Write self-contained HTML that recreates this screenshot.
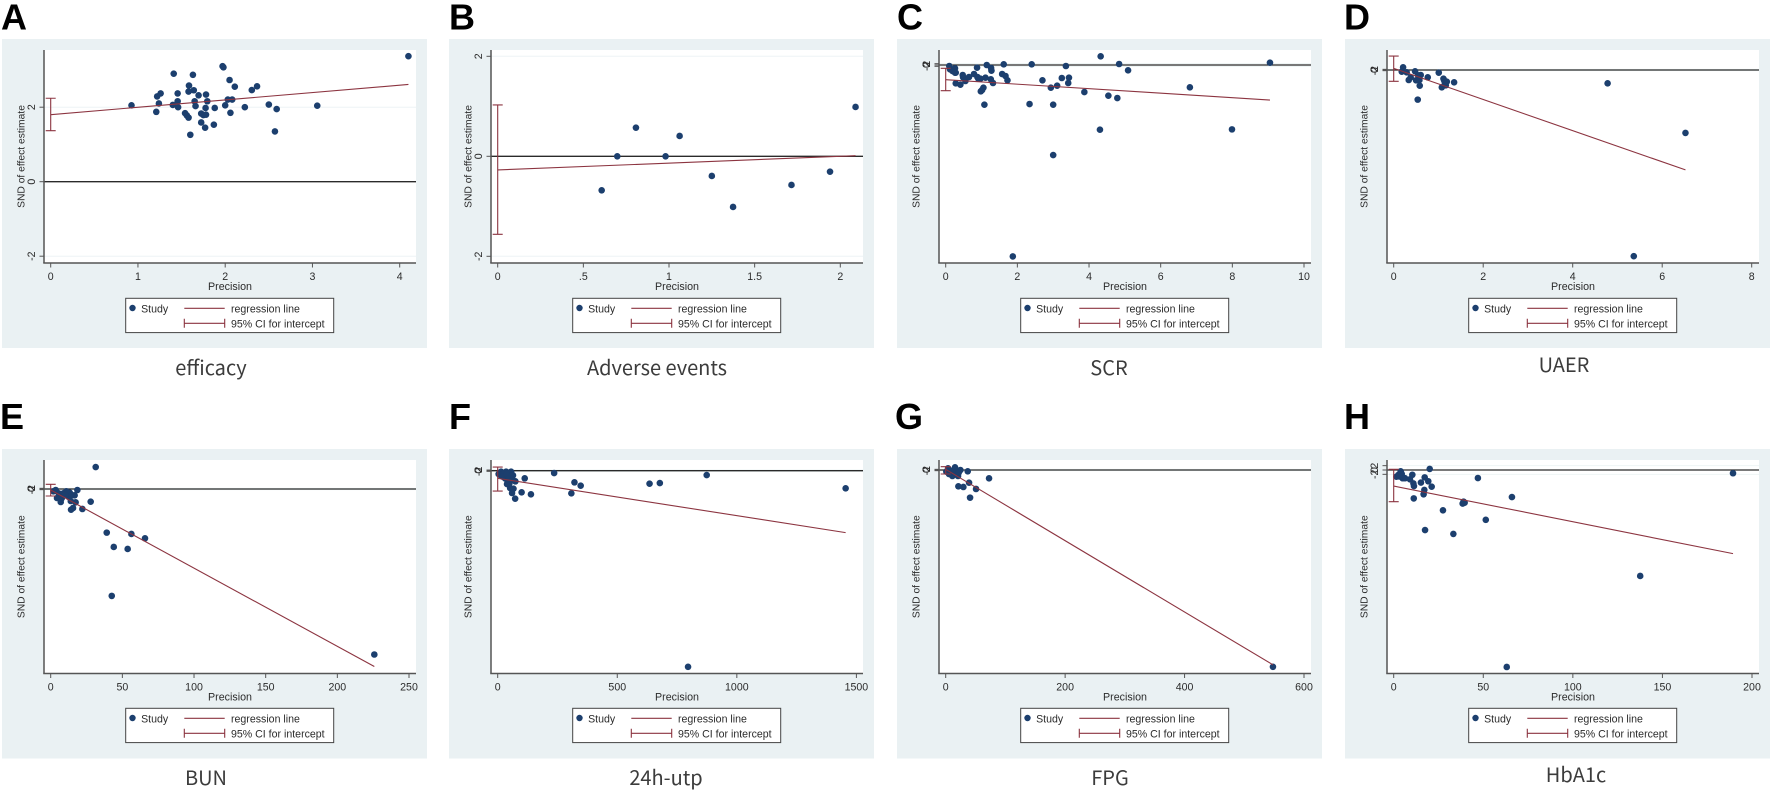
<!DOCTYPE html>
<html lang="en">
<head>
<meta charset="utf-8">
<title>Egger regression plots</title>
<style>
html,body{margin:0;padding:0;background:#fff;}
svg{display:block;filter:blur(0.35px);}
.letter{font-family:"Liberation Sans",sans-serif;font-weight:700;font-size:36px;fill:#000;}
.caption{font-family:"Noto Sans CJK SC","Liberation Sans",sans-serif;font-size:20px;fill:#3c3c3c;text-anchor:middle;}
</style>
</head>
<body>
<svg id="figure" width="1772" height="791" viewBox="0 0 1772 791" xmlns="http://www.w3.org/2000/svg">
<g id="panels"></g>
<text class="letter" x="1" y="29.5">A</text>
<text class="letter" x="449" y="29.5">B</text>
<text class="letter" x="897" y="29.5">C</text>
<text class="letter" x="1344" y="29.5">D</text>
<text class="letter" x="0" y="429">E</text>
<text class="letter" x="449" y="429">F</text>
<text class="letter" x="895" y="429">G</text>
<text class="letter" x="1344" y="429">H</text>
<text class="caption" x="211" y="375">efficacy</text>
<text class="caption" x="657" y="375">Adverse events</text>
<text class="caption" x="1109" y="375">SCR</text>
<text class="caption" x="1564" y="372">UAER</text>
<text class="caption" x="206" y="785">BUN</text>
<text class="caption" x="666" y="785">24h-utp</text>
<text class="caption" x="1110" y="785">FPG</text>
<text class="caption" x="1576" y="782">HbA1c</text>
</svg>
<script>
// Panel A: efficacy
const aPrecision = [0.926,1.21,1.22,1.26,1.24,1.41,1.40,1.455,1.455,1.46,1.585,1.63,1.64,1.58,1.695,1.78,1.795,1.65,1.66,1.775,1.88,1.54,1.56,1.58,1.725,1.75,1.78,1.725,1.77,1.87,1.60,1.97,1.98,2.05,2.11,2.03,2.08,2.0,2.06,2.225,2.305,2.365,2.50,2.59,2.57,3.055,4.10];
const aSnd = [2.05,1.875,2.29,2.37,2.10,2.90,2.06,2.37,2.16,2.0,2.58,2.87,2.455,2.42,2.32,2.34,2.16,2.16,2.03,1.98,1.98,1.84,1.78,1.72,1.83,1.79,1.80,1.59,1.45,1.53,1.26,3.10,3.07,2.73,2.55,2.205,2.205,2.05,1.85,2.0,2.46,2.56,2.07,1.95,1.35,2.04,3.37];
const aXTicks = [0,1,2,3,4];
const aYTicks = [-2,0,2];
const aRegression = [1.80,2.61];
const aInterceptCI = [1.37,2.24];

// Panel B: adverse events
const bPrecision = [0.607,0.698,0.807,0.98,1.062,1.25,1.374,1.715,1.94,2.089];
const bSnd = [-0.68,0,0.573,0,0.407,-0.393,-1.013,-0.573,-0.307,0.987];
const bXTicks = [0,0.5,1,1.5,2];
const bYTicks = [-2,0,2];
const bRegression = [-0.273,0.013];
const bInterceptCI = [-1.56,1.027];

// Panel C: SCR
const cPrecision = [0.10,0.12,0.19,0.26,0.26,0.28,0.28,0.41,0.475,0.485,0.55,0.65,0.79,0.875,0.885,0.91,0.97,0.98,1.016,1.053,1.08,1.11,1.146,1.26,1.267,1.277,1.32,1.575,1.62,1.67,1.724,2.34,2.40,2.70,2.935,3.0,3.0,3.11,3.24,3.355,3.44,3.42,3.87,4.305,4.325,4.54,4.79,4.84,5.09,1.873,6.815,7.99,9.05];
const cSnd = [-1.5,-6.5,-9,-5,-11.5,-11.5,-27.5,-29.5,-15,-18.5,-24,-18,-13.5,-4,-18,-20.5,-20.5,-39.5,-37.5,-34,-59.5,-19,0,-21.5,-4.5,-8.5,-27,-13.5,1,-16.5,-23,-58.5,1,-23,-34,-59.5,-135,-31,-19.5,-1.5,-19,-27,-40.5,-97,13,-46,-49.5,1.5,-8,-287,-33.5,-96.5,3.5];
const cXTicks = [0,2,4,6,8,10];
const cYTicks = [-2,0,2];
const cRegression = [-22,-52.5];
const cInterceptCI = [-38.5,-5];

// Panel D: UAER
const dPrecision = [0.21,0.18,0.29,0.336,0.38,0.478,0.5,0.545,0.575,0.604,0.537,0.582,0.761,1.007,1.075,1.112,1.127,1.142,1.164,1.187,1.35,4.78,6.52,5.365];
const dSnd = [8,-5,-7,-30,-22,-4,-31,-16,-30,-15,-89,-47,-22,-8,-52,-26,-31,-38,-46,-35,-37,-40,-189,-559];
const dXTicks = [0,2,4,6,8];
const dYTicks = [-2,0,2];
const dRegression = [5,-300];
const dInterceptCI = [-34,42];

// Panel E: BUN
const ePrecision = [31.4,18.6,27.9,22.1,17.4,15.6,14.2,16.7,13.3,10.9,14,7,4.4,3.5,1.9,5.6,7.7,8.8,12.3,14.7,10,6,39.1,56.3,65.8,44,53.7,42.6,225.8];
const eSnd = [66,-3,-38,-60,-40,-57,-62,-19,-11,-7,-36,-39,-27,-3,-7,-13,-28,-13,-23,-18,-18,-28,-131,-135,-148,-174,-180,-321,-497];
const eXTicks = [0,50,100,150,200,250];
const eYTicks = [-2,0,2];
const eRegression = [-3,-533];
const eInterceptCI = [-21,14];

// Panel F: 24h-utp
const fPrecision = [4,14,21,28,35,49,56,64,74,42,39,52,66,60,73,100,113,139,236,308,321,347,635,678,874,796,1455,11,25,31,21,42,53,39,59,49,45,63];
const fSnd = [-10,-3,-8,-16,-3,-6,-3,-14,-32,-33,-40,-52,-54,-67,-84,-65,-23,-71,-7,-68,-35,-45,-39,-37,-13,-589,-53,-13,-10,-23,-18,-16,-23,-10,-16,-38,-26,-28];
const fXTicks = [0,500,1000,1500];
const fYTicks = [-2,0,2];
const fRegression = [-23,-186];
const fInterceptCI = [-61,11];

// Panel G: FPG
const gPrecision = [3.9,1.1,5.6,11.2,15.6,20.7,24.6,17.9,12.3,8.4,21.8,36.9,39.1,72.6,21.2,29.6,50.8,40.8,548];
const gSnd = [5,-5,-12,-18,8,-18,0,-5,-8,-2,-8,-4,-38,-25,-49,-51,-57,-83,-591];
const gXTicks = [0,200,400,600];
const gYTicks = [-2,0,2];
const gRegression = [2,-585];
const gInterceptCI = [-12,10];

// Panel H: HbA1c
const hPrecision = [1.5,2.6,3.9,4.5,5,6.3,9.1,10.4,11,11.3,11.2,15.2,17.3,19.3,21.2,17.1,16.7,20.1,27.5,17.5,33.3,38.5,39,39.6,47,4.1,3.2,66,51.4,63.1,137.6,189.4];
const hSnd = [-3.1,-2.3,-0.6,-1.8,-3.8,-3.8,-4.3,-2.2,-6.2,-7.4,-13.1,-5.8,-3.4,-5.2,-7.7,-9.2,-11.2,0.5,-18.6,-27.7,-29.5,-15.5,-14.6,-15.1,-3.7,-1.8,-3,-12.5,-23,-90.9,-48.9,-1.5];
const hXTicks = [0,50,100,150,200];
const hYTicks = [-2,0,2];
const hRegression = [-7.4,-38.6];
const hInterceptCI = [-14.6,0.3];

const NS = 'http://www.w3.org/2000/svg';
const FONT = '"Liberation Sans", sans-serif';
const AXIS = '#555555';
const INK = '#2b2b2b';
const MAROON = '#8c3440';
const NAVY = '#1c3f6e';

function make(parent, tag, attrs, text) {
  const el = document.createElementNS(NS, tag);
  for (const k in attrs) el.setAttribute(k, attrs[k]);
  if (text !== undefined) el.textContent = text;
  parent.appendChild(el);
  return el;
}
function tickText(v) {
  return String(v).replace(/^(-?)0\./, '$1.');
}

function drawLegend(g, left, top) {
  const lg = make(g, 'g', {});
  
  
  const box = make(lg, 'rect', {x: left, y: top, width: 208, height: 34.3, fill: '#fff', stroke: '#444', 'stroke-width': 1});
  
  
  const dot = make(lg, 'circle', {cx: left + 6.8, cy: top + 9.7, r: 3.2, fill: NAVY});
  
  
  const study = make(lg, 'text', {x: left + 15.4, y: top + 14.2, 'font-family': FONT, 'font-size': 10.6, fill: INK}, 'Study');
  
  
  const reg = make(lg, 'line', {x1: left + 58.6, x2: left + 99, y1: top + 10, y2: top + 10, stroke: MAROON, 'stroke-width': 1.1});
  
  
  const regText = make(lg, 'text', {x: left + 105.3, y: top + 14.2, 'font-family': FONT, 'font-size': 10.6, fill: INK}, 'regression line');
  
  
  const ci = make(lg, 'path', {d: 'M' + (left + 58.6) + ' ' + (top + 20.5) + 'v9M' + (left + 58.6) + ' ' + (top + 25) + 'H' + (left + 99) + 'M' + (left + 99) + ' ' + (top + 20.5) + 'v9', fill: 'none', stroke: MAROON, 'stroke-width': 1.1});
  
  
  const ciText = make(lg, 'text', {x: left + 105.3, y: top + 29, 'font-family': FONT, 'font-size': 10.6, fill: INK}, '95% CI for intercept');
  
  
}

function drawPanel(p) {
  const root = document.getElementById('panels');
  const g = make(root, 'g', {});
  
  
  const L = p.left, T = p.top, B = p.bottom, R = L + 372;
  const X = function (v) { return L + 6.7 + v * p.xSpan / p.xLast; };
  const Y = function (v) { return p.zeroY - v * p.unit; };

  const bg = make(g, 'rect', {x: L - 42, y: T - 11, width: 425, height: B - T + 96, fill: '#eaf1f3'});
  
  
  const plot = make(g, 'rect', {x: L, y: T, width: 372, height: B - T, fill: '#fff'});
  
  

  p.yTicks.forEach(function (v) {
    if (v === 0) return;
    const grid = make(g, 'line', {x1: L, x2: R, y1: Y(v), y2: Y(v), stroke: '#eef4f5', 'stroke-width': 1});
    
    
  });
  const zero = make(g, 'line', {x1: L, x2: R, y1: Y(0), y2: Y(0), stroke: '#2a2a2a', 'stroke-width': 1.3});
  
  

  p.x.forEach(function (v, i) {
    const c = make(g, 'circle', {cx: X(v), cy: Y(p.y[i]), r: 3.3, fill: NAVY});
    
    
  });

  const maxX = Math.max.apply(null, p.x);
  const reg = make(g, 'line', {x1: X(0), y1: Y(p.reg[0]), x2: X(maxX), y2: Y(p.reg[1]), stroke: MAROON, 'stroke-width': 1.1});
  
  
  const x0 = X(0);
  const ci = make(g, 'path', {d: 'M' + (x0 - 5) + ' ' + Y(p.ci[0]) + 'H' + (x0 + 5) + 'M' + x0 + ' ' + Y(p.ci[0]) + 'V' + Y(p.ci[1]) + 'M' + (x0 - 5) + ' ' + Y(p.ci[1]) + 'H' + (x0 + 5), fill: 'none', stroke: MAROON, 'stroke-width': 1.1});
  
  

  const yAxis = make(g, 'line', {x1: L, x2: L, y1: T, y2: B, stroke: AXIS, 'stroke-width': 1.5});
  
  
  const xAxis = make(g, 'line', {x1: L - 0.75, x2: R, y1: B, y2: B, stroke: AXIS, 'stroke-width': 1.5});
  
  

  p.xTicks.forEach(function (v) {
    const t = make(g, 'line', {x1: X(v), x2: X(v), y1: B, y2: B + 4.5, stroke: AXIS, 'stroke-width': 1});
    
    
    const lab = make(g, 'text', {x: X(v), y: B + 17, 'text-anchor': 'middle', 'font-family': FONT, 'font-size': 10.6, fill: INK}, tickText(v));
    
    
  });
  p.yTicks.forEach(function (v) {
    const t = make(g, 'line', {x1: L - 4.5, x2: L, y1: Y(v), y2: Y(v), stroke: AXIS, 'stroke-width': 1});
    
    
    const lab = make(g, 'text', {transform: 'translate(' + (L - 9) + ' ' + Y(v) + ') rotate(-90)', 'text-anchor': 'middle', 'font-family': FONT, 'font-size': 10.6, fill: INK}, tickText(v));
    
    
  });

  const xt = make(g, 'text', {x: L + 186, y: B + 27, 'text-anchor': 'middle', 'font-family': FONT, 'font-size': 10.7, fill: INK}, 'Precision');
  
  
  const yt = make(g, 'text', {transform: 'translate(' + (L - 19.5) + ' ' + ((T + B) / 2) + ') rotate(-90)', 'text-anchor': 'middle', 'font-family': FONT, 'font-size': 10.3, fill: INK}, 'SND of effect estimate');
  
  

  drawLegend(g, L + 81.7, T + 248.3);
}

drawPanel({id:'a', left:44,   top:50,  bottom:263,   xLast:4,    xSpan:349,   zeroY:181.7, unit:37.25, x:aPrecision, y:aSnd, xTicks:aXTicks, yTicks:aYTicks, reg:aRegression, ci:aInterceptCI});
drawPanel({id:'b', left:491,  top:50,  bottom:263,   xLast:2,    xSpan:342.6, zeroY:156.3, unit:50,    x:bPrecision, y:bSnd, xTicks:bXTicks, yTicks:bYTicks, reg:bRegression, ci:bInterceptCI});
drawPanel({id:'c', left:939,  top:50,  bottom:263,   xLast:10,   xSpan:358.3, zeroY:65,    unit:0.667, x:cPrecision, y:cSnd, xTicks:cXTicks, yTicks:cYTicks, reg:cRegression, ci:cInterceptCI});
drawPanel({id:'d', left:1387, top:50,  bottom:263,   xLast:8,    xSpan:358,   zeroY:70,    unit:0.333, x:dPrecision, y:dSnd, xTicks:dXTicks, yTicks:dYTicks, reg:dRegression, ci:dInterceptCI});
drawPanel({id:'e', left:44,   top:460, bottom:673.5, xLast:250,  xSpan:358.3, zeroY:489,   unit:0.333, x:ePrecision, y:eSnd, xTicks:eXTicks, yTicks:eYTicks, reg:eRegression, ci:eInterceptCI});
drawPanel({id:'f', left:491,  top:460, bottom:673.5, xLast:1500, xSpan:358.7, zeroY:470.7, unit:0.333, x:fPrecision, y:fSnd, xTicks:fXTicks, yTicks:fYTicks, reg:fRegression, ci:fInterceptCI});
drawPanel({id:'g', left:939,  top:460, bottom:673.5, xLast:600,  xSpan:358.3, zeroY:470,   unit:0.333, x:gPrecision, y:gSnd, xTicks:gXTicks, yTicks:gYTicks, reg:gRegression, ci:gInterceptCI});
drawPanel({id:'h', left:1387, top:460, bottom:673.5, xLast:200,  xSpan:358.3, zeroY:470,   unit:2.167, x:hPrecision, y:hSnd, xTicks:hXTicks, yTicks:hYTicks, reg:hRegression, ci:hInterceptCI});
</script>
</body>
</html>
